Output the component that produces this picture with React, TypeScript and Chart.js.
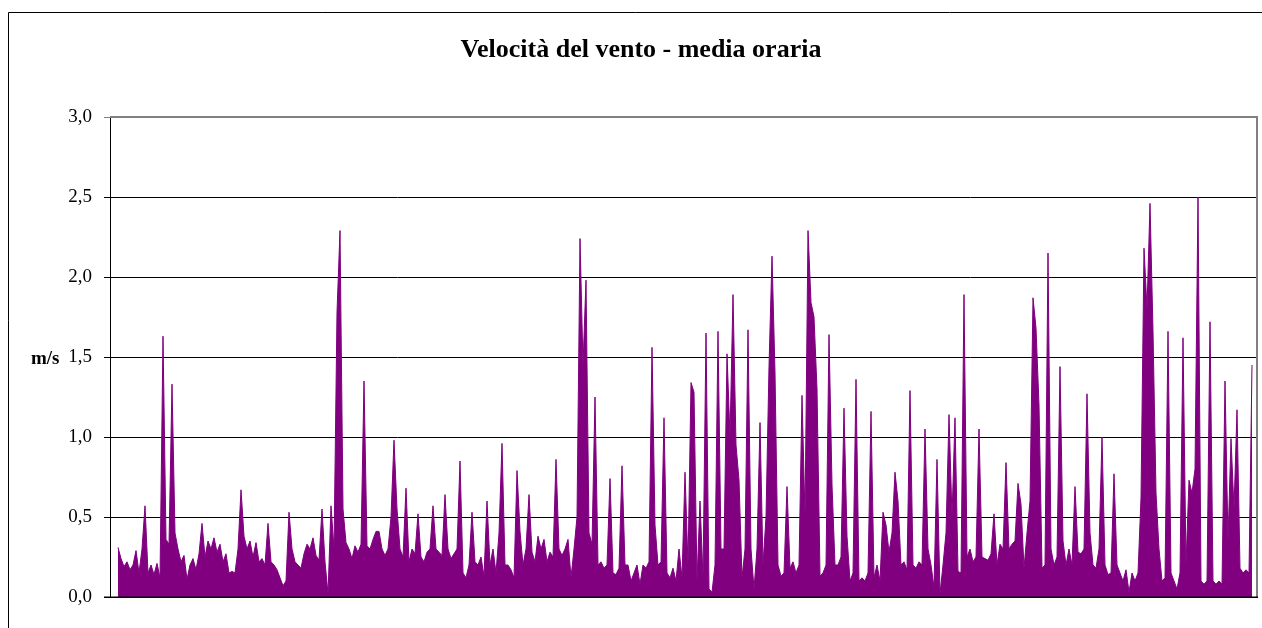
import React, { useEffect, useRef } from "react";
import { Chart, registerables } from "chart.js";

Chart.register(...registerables);

const chartTitle = "Velocità del vento - media oraria";
const yAxisUnit = "m/s";
const yTickLabels = ["0,0", "0,5", "1,0", "1,5", "2,0", "2,5", "3,0"];

// hourly mean wind speed (m/s), in time order
const windSpeed: number[] = [
  0.31, 0.24, 0.19, 0.22, 0.17, 0.2, 0.29, 0.15, 0.3, 0.57,
  0.15, 0.2, 0.14, 0.21, 0.12, 1.63, 0.36, 0.33, 1.33, 0.4,
  0.3, 0.22, 0.26, 0.11, 0.2, 0.24, 0.17, 0.27, 0.46, 0.25,
  0.35, 0.3, 0.37, 0.28, 0.33, 0.22, 0.27, 0.15, 0.16, 0.15,
  0.3, 0.67, 0.38, 0.3, 0.35, 0.25, 0.34, 0.22, 0.24, 0.2,
  0.46, 0.22, 0.2, 0.17, 0.12, 0.07, 0.1, 0.53, 0.3, 0.22,
  0.2, 0.18, 0.27, 0.33, 0.3, 0.37, 0.26, 0.23, 0.55, 0.22,
  0.02, 0.57, 0.3, 1.78, 2.29, 0.55, 0.34, 0.3, 0.24, 0.32,
  0.28, 0.33, 1.35, 0.32, 0.3, 0.36, 0.41, 0.41, 0.3, 0.26,
  0.3, 0.5, 0.98, 0.55, 0.3, 0.25, 0.68, 0.22, 0.3, 0.27,
  0.52, 0.25, 0.22, 0.28, 0.3, 0.57, 0.3, 0.28, 0.26, 0.64,
  0.3, 0.24, 0.27, 0.3, 0.85, 0.15, 0.12, 0.2, 0.53, 0.22,
  0.2, 0.25, 0.13, 0.6, 0.2, 0.3, 0.15, 0.4, 0.96, 0.2,
  0.2, 0.17, 0.12, 0.79, 0.41, 0.2, 0.3, 0.64, 0.28, 0.22,
  0.38, 0.3, 0.36, 0.22, 0.28, 0.25, 0.86, 0.3, 0.26, 0.3,
  0.36, 0.12, 0.3, 0.5, 2.24, 1.45, 1.98, 0.4, 0.33, 1.25,
  0.2, 0.22, 0.18, 0.2, 0.74, 0.15, 0.14, 0.18, 0.82, 0.2,
  0.2, 0.1, 0.15, 0.2, 0.08, 0.2, 0.18, 0.22, 1.56, 0.45,
  0.2, 0.22, 1.12, 0.15, 0.12, 0.18, 0.1, 0.3, 0.12, 0.78,
  0.2, 1.34, 1.28, 0.1, 0.6, 0.12, 1.65, 0.05, 0.03, 0.2,
  1.66, 0.3, 0.3, 1.52, 1.0, 1.89, 0.95, 0.73, 0.12, 0.3,
  1.67, 0.3, 0.05, 0.3, 1.09, 0.2, 0.5, 1.44, 2.13, 1.4,
  0.2, 0.13, 0.15, 0.69, 0.18, 0.22, 0.15, 0.2, 1.26, 0.5,
  2.29, 1.84, 1.75, 1.3, 0.13, 0.15, 0.2, 1.64, 0.7, 0.2,
  0.2, 0.25, 1.18, 0.38, 0.1, 0.15, 1.36, 0.1, 0.12, 0.1,
  0.15, 1.16, 0.12, 0.2, 0.1, 0.53, 0.45, 0.28, 0.4, 0.78,
  0.6, 0.2, 0.22, 0.17, 1.29, 0.2, 0.18, 0.22, 0.2, 1.05,
  0.3, 0.2, 0.06, 0.86, 0.02, 0.2, 0.4, 1.14, 0.5, 1.12,
  0.16, 0.15, 1.89, 0.25, 0.3, 0.22, 0.25, 1.05, 0.25, 0.24,
  0.23, 0.27, 0.52, 0.2, 0.33, 0.3, 0.84, 0.3, 0.33, 0.35,
  0.71, 0.58, 0.18, 0.4, 0.6, 1.87, 1.68, 1.2, 0.18, 0.2,
  2.15, 0.3, 0.2, 0.25, 1.44, 0.35, 0.2, 0.3, 0.2, 0.69,
  0.28, 0.27, 0.3, 1.27, 0.4, 0.2, 0.18, 0.3, 1.0, 0.2,
  0.14, 0.15, 0.77, 0.2, 0.15, 0.1, 0.17, 0.03, 0.15, 0.1,
  0.15, 0.62, 2.18, 1.8, 2.46, 1.66, 0.65, 0.3, 0.1, 0.12,
  1.66, 0.15, 0.1, 0.05, 0.15, 1.62, 0.2, 0.73, 0.65, 0.8,
  2.5, 0.1, 0.08, 0.1, 1.72, 0.1, 0.08, 0.1, 0.08, 1.35,
  0.35, 0.99, 0.55, 1.17, 0.18, 0.15, 0.17, 0.15, 1.45,
];

const SERIF = "'Liberation Serif', 'Times New Roman', serif";

const decorPlugin = {
  id: "decor",
  beforeDraw(chart: any) {
    const ctx = chart.ctx;
    ctx.save();
    ctx.fillStyle = "#ffffff";
    ctx.fillRect(0, 0, chart.width, chart.height);
    ctx.restore();
  },
  afterDraw(chart: any) {
    const ctx = chart.ctx;
    const a = chart.chartArea;
    ctx.save();
    // outer frame
    ctx.strokeStyle = "#000";
    ctx.lineWidth = 1;
    ctx.beginPath();
    ctx.moveTo(chart.width + 5, 12.5);
    ctx.lineTo(8.5, 12.5);
    ctx.lineTo(8.5, chart.height + 5);
    ctx.stroke();
    // plot area top / right border
    ctx.strokeStyle = "#808080";
    ctx.lineWidth = 2;
    ctx.beginPath();
    ctx.moveTo(a.left, a.top);
    ctx.lineTo(a.right, a.top);
    ctx.lineTo(a.right, a.bottom);
    ctx.stroke();
    // bottom axis
    ctx.strokeStyle = "#000";
    ctx.lineWidth = 1.5;
    ctx.beginPath();
    ctx.moveTo(a.left - 6, a.bottom + 0.25);
    ctx.lineTo(a.right + 1, a.bottom + 0.25);
    ctx.stroke();
    // title
    ctx.fillStyle = "#000";
    ctx.font = `bold 26px ${SERIF}`;
    ctx.textAlign = "center";
    ctx.textBaseline = "alphabetic";
    ctx.fillText(chartTitle, 641, 57);
    // unit
    ctx.font = `bold 19px ${SERIF}`;
    ctx.textAlign = "right";
    ctx.fillText(yAxisUnit, 59.5, 363.5);
    ctx.restore();
  },
};

export default function App() {
  const ref = useRef<HTMLCanvasElement | null>(null);

  useEffect(() => {
    if (!ref.current) return;
    const points = windSpeed.map((v, i) => ({ x: i, y: v }));
    const last = windSpeed.length - 1;
    const chart = new Chart(ref.current, {
      type: "line",
      data: {
        datasets: [
          {
            data: points,
            borderColor: "#800080",
            backgroundColor: "#800080",
            borderWidth: 1,
            pointRadius: 0,
            fill: "origin",
            tension: 0,
          },
        ],
      },
      options: {
        responsive: false,
        animation: false,
        events: [],
        layout: { padding: { left: 0, top: 117, right: 5, bottom: 31 } },
        plugins: {
          legend: { display: false },
          title: { display: false },
          tooltip: { enabled: false },
        },
        scales: {
          x: {
            type: "linear",
            display: false,
            min: -8 / 3,
            max: last + 5 / 3,
          },
          y: {
            min: 0,
            max: 3,
            afterFit: (scale: any) => {
              scale.width = 110;
            },
            ticks: {
              stepSize: 0.5,
              padding: 12,
              color: "#000",
              font: { family: SERIF, size: 19 },
              callback: (_v: any, index: number) => yTickLabels[index],
            },
            grid: {
              color: (c: any) => (c.tick && c.tick.value === 3 ? "#808080" : "#000"),
              lineWidth: 1,
              tickLength: 6,
              drawTicks: true,
            },
            border: { display: true, color: "#000", width: 1 },
          },
        },
      },
      plugins: [decorPlugin],
    });
    return () => chart.destroy();
  }, []);

  return (
    <div style={{ position: "fixed", left: 0, top: 0, width: 1262, height: 628, background: "#fff" }}>
      <canvas ref={ref} width={1262} height={628} style={{ display: "block" }} />
    </div>
  );
}
